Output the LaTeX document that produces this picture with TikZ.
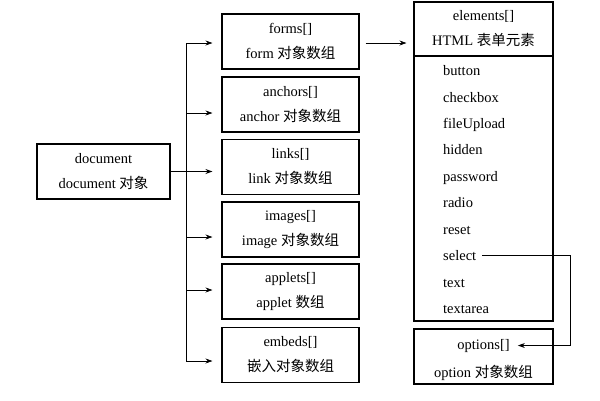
\documentclass[tikz,border=0pt]{standalone}
\usepackage{fontspec}
\setmainfont{Liberation Serif}
\newfontfamily\cjk{Noto Sans CJK SC}
\newcommand{\zh}[1]{{\cjk #1}}
\usetikzlibrary{arrows.meta,calc}
\begin{document}
\begin{tikzpicture}[x=1pt,y=-1pt,
  box/.style={draw, line width=1.1pt, minimum width=137pt, minimum height=55pt, inner sep=0pt, align=center, font=\fontsize{14.5}{25}\selectfont},
  plainbox/.style={draw, line width=1.1pt, minimum width=139pt, inner sep=0pt},
  txt/.style={inner sep=0pt, font=\fontsize{14.5}{17}\selectfont},
  conn/.style={line width=0.8pt},
  arr/.style={conn, -{Stealth[length=7pt,width=5pt]}}]
\useasboundingbox (0,0) rectangle (600,400);
% left document box
\node[box, minimum width=133pt] (doc) at (103.5,171.5) {document\\document \zh{对象}};
% middle column
\node[box] (forms)   at (290.5,41.5)  {forms[]\\form \zh{对象数组}};
\node[box] (anchors) at (290.5,104.5) {anchors[]\\anchor \zh{对象数组}};
\node[box] (links)   at (290.5,167)   {links[]\\link \zh{对象数组}};
\node[box] (images)  at (290.5,229.5) {images[]\\image \zh{对象数组}};
\node[box] (applets) at (290.5,291.5) {applets[]\\applet \zh{数组}};
\node[box] (embeds)  at (290.5,355)   {embeds[]\\\zh{嵌入对象数组}};
% elements box
\node[box, minimum width=139pt, minimum height=54pt] (elhead) at (483.5,29) {elements[]\\HTML \zh{表单元素}};
\node[plainbox, minimum height=265pt] (ellist) at (483.5,188.5) {};
\node[txt, anchor=base west] (i1)  at (443,75)  {button};
\node[txt, anchor=base west] (i2)  at (443,102) {checkbox};
\node[txt, anchor=base west] (i3)  at (443,128) {fileUpload};
\node[txt, anchor=base west] (i4)  at (443,154) {hidden};
\node[txt, anchor=base west] (i5)  at (443,181) {password};
\node[txt, anchor=base west] (i6)  at (443,207) {radio};
\node[txt, anchor=base west] (i7)  at (443,234) {reset};
\node[txt, anchor=base west] (i8)  at (443,260) {select};
\node[txt, anchor=base west] (i9)  at (443,287) {text};
\node[txt, anchor=base west] (i10) at (443,313) {textarea};
% options box
\node[plainbox, minimum height=55pt] (opts) at (483.5,356.5) {};
\node[txt, anchor=base] (o1) at (483.5,349) {options[]};
\node[txt, anchor=base] (o2) at (483.5,377) {option \zh{对象数组}};
% connectors
\coordinate (b1) at (186,43);
\coordinate (b2) at (186,113);
\coordinate (b3) at (186,171.5);
\coordinate (b4) at (186,237);
\coordinate (b5) at (186,290);
\coordinate (b6) at (186,361);
\draw[conn] (b1) -- (b6);
\draw[arr, shorten >=9pt] (b1) -- (b1 -| forms.west);
\draw[arr, shorten >=9pt] (b2) -- (b2 -| anchors.west);
\draw[arr, shorten >=9pt] (doc.east) -- (doc.east -| links.west);
\draw[arr, shorten >=9pt] (b4) -- (b4 -| images.west);
\draw[arr, shorten >=9pt] (b5) -- (b5 -| applets.west);
\draw[arr, shorten >=9pt] (b6) -- (b6 -| embeds.west);
\draw[arr, shorten <=6pt, shorten >=7pt] (b1 -| forms.east) -- (b1 -| elhead.west);
\coordinate (sr) at (570,255);
\draw[arr, shorten >=8pt] ([xshift=6pt]i8.east) -- (i8.east -| sr) |- (o1.east);
\end{tikzpicture}
\end{document}
